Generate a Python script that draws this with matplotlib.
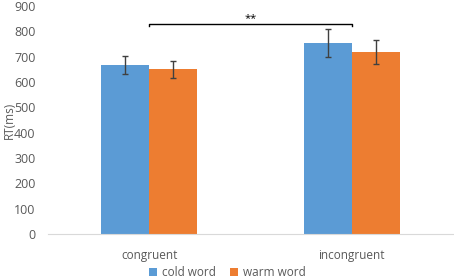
import numpy as np
import matplotlib.pyplot as plt

plt.rcParams['font.family'] = ['Open Sans', 'DejaVu Sans']

categories = ['congruent', 'incongruent']
cold_word = [666, 752]
cold_err = [35, 55]
warm_word = [650, 719]
warm_err = [34, 48]
sig_label = '**'

fig = plt.figure(figsize=(4.54, 2.8), dpi=100)
ax = fig.add_axes([0.106, 0.164, 0.892, 0.815])

x = np.arange(len(categories))
w = 0.237
ebar = dict(ecolor='#404040', elinewidth=1, capsize=2, capthick=1)
ax.bar(x - w/2, cold_word, w, yerr=cold_err, color='#5B9BD5', label='cold word', error_kw=ebar)
ax.bar(x + w/2, warm_word, w, yerr=warm_err, color='#ED7D31', label='warm word', error_kw=ebar)

# significance bracket
ax.plot([x[0], x[0], x[1], x[1]], [820, 827, 827, 820], color='black', lw=1)
ax.text((x[0] + x[1]) / 2, 850, sig_label, ha='center', va='center', fontsize=8)

ax.set_xlim(-0.5, 1.5)
ax.set_ylim(0, 900)
ax.set_yticks(range(0, 901, 100))
ax.set_xticks(x)
ax.set_xticklabels(categories)
ax.tick_params(axis='both', length=0, labelsize=8.5, labelcolor='#595959')
ax.tick_params(axis='x', pad=11)
ax.tick_params(axis='y', labelsize=9, pad=9)
for s in ['top', 'right', 'left']:
    ax.spines[s].set_visible(False)
ax.spines['bottom'].set_color('#d9d9d9')

# y label placed in figure coords so it is not clipped
fig.text(0.02, 0.164 + 0.815 / 2, 'RT(ms)', rotation=90, ha='center', va='center',
         fontsize=8.5, color='#595959')

fig.legend(loc='lower center', bbox_to_anchor=(0.5, -0.035), ncol=2, frameon=False,
           fontsize=8.5, handlelength=0.7, handleheight=0.7, handletextpad=0.4,
           columnspacing=1.2, labelcolor='#595959')

fig.savefig('out.png', dpi=100)
